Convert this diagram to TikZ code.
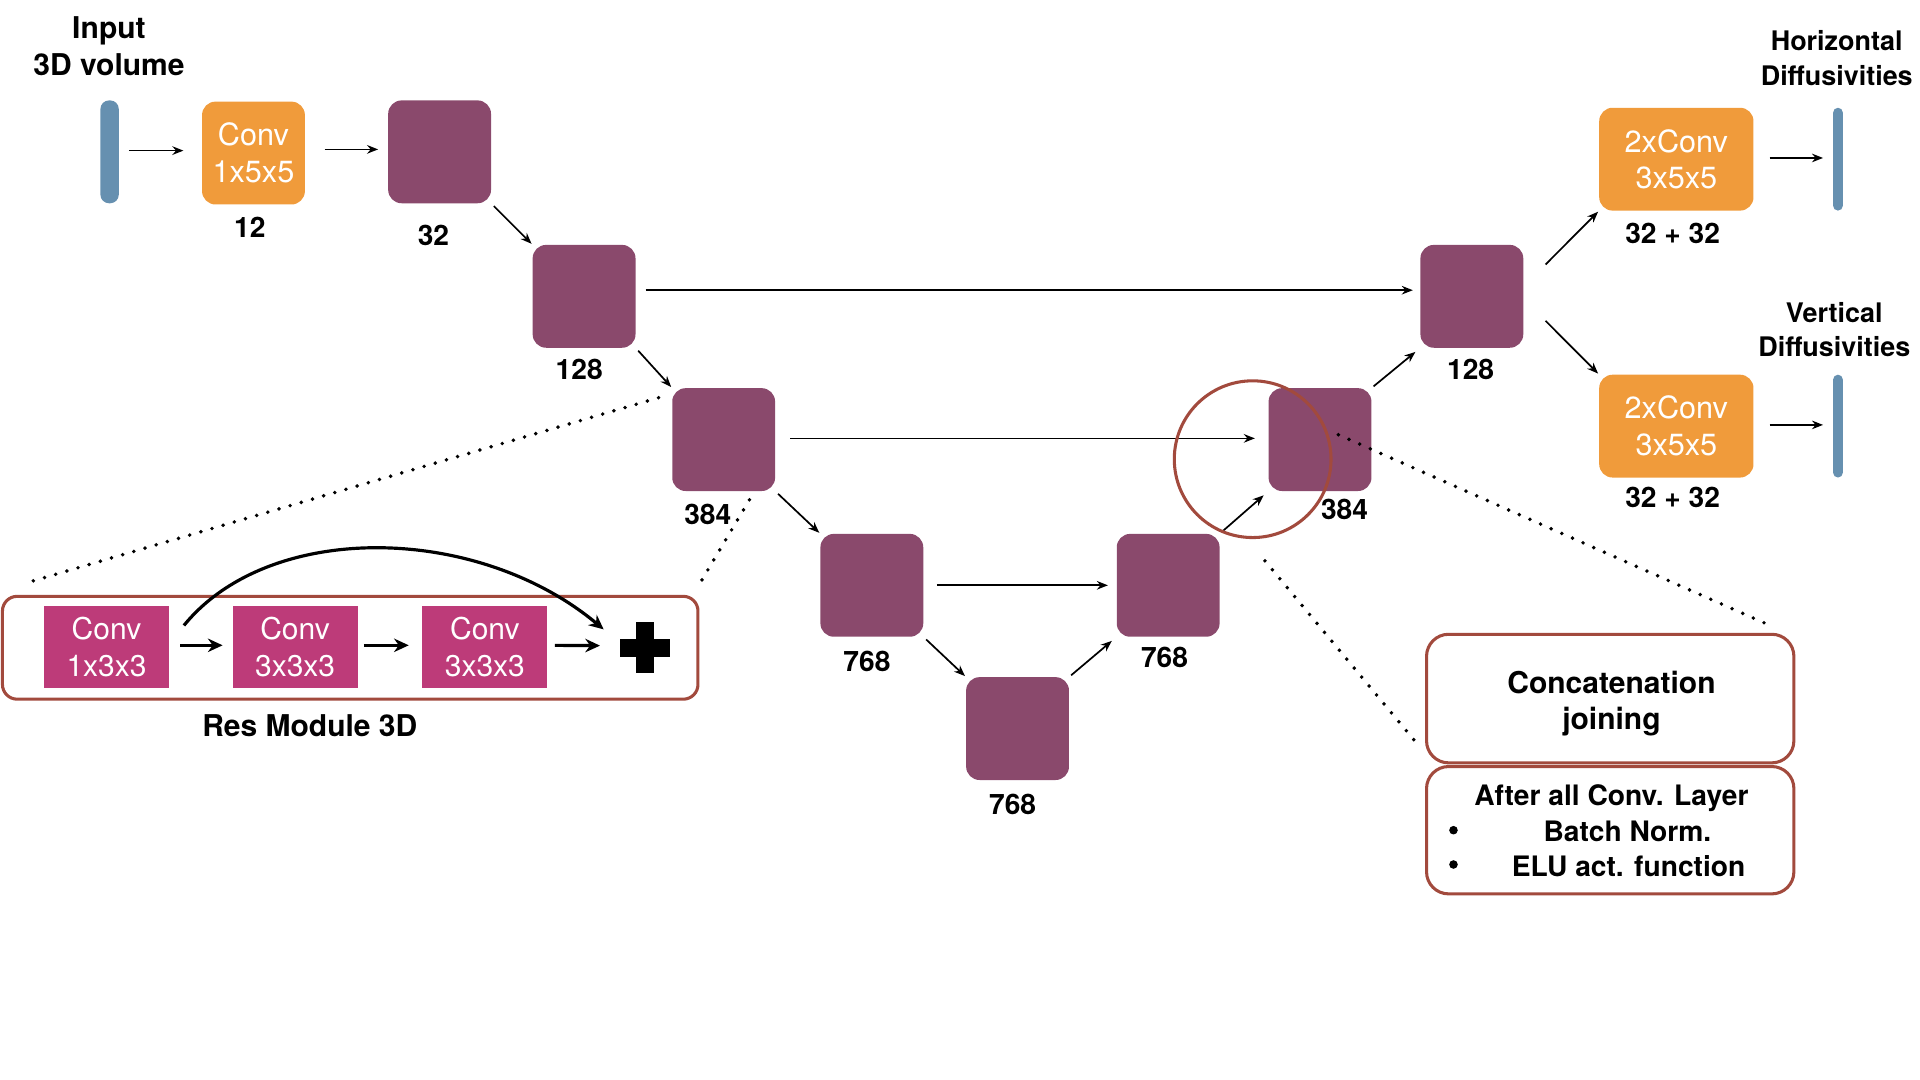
\documentclass[tikz,border=0pt]{standalone}
\usepackage{fontspec}
\setmainfont{TeX Gyre Heros}
\usetikzlibrary{arrows.meta,calc}

\definecolor{blockpurple}{RGB}{138,73,108}
\definecolor{convorange}{RGB}{240,155,59}
\definecolor{volblue}{RGB}{102,144,176}
\definecolor{resmagenta}{RGB}{189,59,121}
\definecolor{framered}{RGB}{162,74,61}

\tikzset{
  feat/.style={fill=blockpurple, rounded corners=11pt, minimum width=84pt, minimum height=84pt, inner sep=0pt},
  conv/.style={fill=convorange, rounded corners=11pt, minimum height=84pt, inner sep=0pt, text=white, align=center, font=\fontsize{25}{30}\selectfont},
  vol/.style={fill=volblue, minimum height=84pt, inner sep=0pt},
  resconv/.style={fill=resmagenta, minimum width=102pt, minimum height=67pt, inner sep=0pt, text=white, align=center, font=\fontsize{24.5}{30}\selectfont},
  numlabel/.style={font=\bfseries\fontsize{23}{27}\selectfont},
  headtext/.style={font=\bfseries\fontsize{24.5}{30}\selectfont, align=center},
  sidetext/.style={font=\bfseries\fontsize{22}{28}\selectfont, align=center},
  arr/.style={draw, line width=1.4pt, -{Stealth[length=9pt,width=7pt]}},
  thickarr/.style={draw, line width=2.6pt, -{Stealth[length=12pt,width=11pt]}},
  zoomline/.style={draw, line width=3.2pt, dash pattern=on 0pt off 9.5pt, line cap=round},
  redframe/.style={draw=framered, line width=2.5pt},
}

\begin{document}
\begin{tikzpicture}[x=1pt,y=-1pt]
  \useasboundingbox (0,0) rectangle (1568,882);
  % input
  \node[headtext] (intitle) at (89,38) {Input\\3D volume};
  \node[vol, minimum width=15pt, rounded corners=7pt] (invol) at (89.5,124) {};
  \node[conv, minimum width=84pt] (conv1) at (207,125) {Conv\\1x5x5};
  \path[arr, shorten <=8pt, shorten >=15pt] ([yshift=1pt]invol.east) -- ([yshift=2pt]conv1.west);
  % feature blocks
  \foreach \n/\x/\y in {b32/359/124, b128/477/242, b384/591/359, b768a/712/478, b768b/831/595, b768c/954/478, b384r/1078/359, b128r/1202/242}
  {
    \node[feat] (\n) at (\x,\y) {};
  }
  \foreach \n/\x/\y/\t in {l12/204/186/12, l32/354/192/32, l128/473/302/128, l384/578/420/384, l768a/708/540/768, l768b/827/657/768, l768c/951/537/768, l384r/1098/416/384, l128r/1201/302/128}
  {
    \node[numlabel] (\n) at (\x,\y) {\t};
  }
  \path[arr, shorten <=16pt, shorten >=8pt] ([yshift=3pt]conv1.east) -- ([yshift=2pt]b32.west);
  \foreach \a/\b in {b32/b128, b128/b384, b384/b768a, b768a/b768b}
  {
    \path[arr, shorten <=3pt, shorten >=1pt] (\a.south east) -- (\b.north west);
  }
  \foreach \a/\b in {b768b/b768c, b768c/b384r, b384r/b128r}
  {
    \path[arr, shorten <=2pt, shorten >=5pt] (\a.north east) -- (\b.south west);
  }
  % skip connections
  \path[arr, shorten <=8pt, shorten >=6pt] ([yshift=5pt]b128.east) -- ([yshift=5pt]b128r.west);
  \path[arr, shorten <=12pt, shorten >=11pt] ([yshift=1pt]b384.east) -- ([yshift=1pt]b384r.west);
  \path[arr, shorten <=11pt, shorten >=7pt] (b768a.east) -- (b768c.west);
  % outputs
  \node[conv, minimum width=126pt] (convh) at (1369,130) {2xConv\\3x5x5};
  \node[conv, minimum width=126pt] (convv) at (1369,348) {2xConv\\3x5x5};
  \node[numlabel] (lconvh) at (1366,191) {32 + 32};
  \node[numlabel] (lconvv) at (1366,406) {32 + 32};
  \node[vol, minimum width=8pt, rounded corners=4pt] (outh) at (1501,130) {};
  \node[vol, minimum width=8pt, rounded corners=4pt] (outv) at (1501,348) {};
  \node[sidetext] (htitle) at (1500,47.5) {Horizontal\\Diffusivities};
  \node[sidetext] (vtitle) at (1498,269) {Vertical\\Diffusivities};
  \path[arr, shorten >=1pt] ([shift={(18,-26)}]b128r.east) -- (convh.south west);
  \path[arr, shorten >=1pt] ([shift={(18,20)}]b128r.east) -- (convv.north west);
  \path[arr, shorten <=13pt, shorten >=8pt] ([yshift=1pt]convh.east) -- ([yshift=1pt]outh.west);
  \path[arr, shorten <=13pt, shorten >=8pt] ([yshift=1pt]convv.east) -- ([yshift=1pt]outv.west);
  % concatenation
  \draw[redframe] (1023,375) circle[radius=64];
  % res module
  \node[redframe, rounded corners=12pt, minimum width=568pt, minimum height=84pt] (resmod) at (286,529) {};
  \node[resconv] (rc1) at (87,528.5) {Conv\\1x3x3};
  \node[resconv] (rc2) at (241,528.5) {Conv\\3x3x3};
  \node[resconv] (rc3) at (396,528.5) {Conv\\3x3x3};
  \coordinate (plus) at (527,529);
  \fill ([shift={(-20.5,-7.5)}]plus) rectangle ([shift={(20.5,7.5)}]plus);
  \fill ([shift={(-7.5,-21)}]plus) rectangle ([shift={(7.5,21)}]plus);
  \path[thickarr, shorten <=9pt, shorten >=8pt] ([yshift=1.5pt]rc1.east) -- ([yshift=1.5pt]rc2.west);
  \path[thickarr, shorten <=5pt, shorten >=11pt] ([yshift=1.5pt]rc2.east) -- ([yshift=1.5pt]rc3.west);
  \path[thickarr, shorten <=6pt, shorten >=37pt] ([yshift=1.5pt]rc3.east) -- ([yshift=1.5pt]plus);
  \path[thickarr] ([shift={(12,16)}]rc1.north east) .. controls +(70,-86) and +(-103,-86) .. ([shift={(-34,-15)}]plus);
  \node[headtext] (reslabel) at (253,593) {Res Module 3D};
  % notes
  \node[redframe, rounded corners=18pt, minimum width=300pt, minimum height=105pt] (concat) at (1315,570.5) {};
  \node[headtext] (concattext) at (1316,574.5) {Concatenation\\joining};
  \node[redframe, rounded corners=18pt, minimum width=300pt, minimum height=104pt] (postbox) at (1315,678) {};
  \node[numlabel] (posthead) at (1316,652) {After all Conv. Layer};
  \node[numlabel] (bn) at (1329,679) {Batch Norm.};
  \node[numlabel] (elu) at (1330,707) {ELU act. function};
  \fill (1187,678) circle[radius=3.5];
  \fill (1187,706) circle[radius=3.5];
  % zoom lines
  \coordinate (zl1) at (25,475);
  \coordinate (zl2) at (573,474);
  \coordinate (zr1) at (1446,511);
  \coordinate (zr2) at (1033,458);
  \coordinate (zr3) at (1157,607);
  \path[zoomline] ([shift={(-11,8)}]b384.north west) -- (zl1);
  \path[zoomline] ([shift={(21,7)}]b384.south) -- (zl2);
  \path[zoomline] ([shift={(15,-4)}]b384r.center) -- (zr1);
  \path[zoomline] (zr2) -- (zr3);
\end{tikzpicture}
\end{document}
